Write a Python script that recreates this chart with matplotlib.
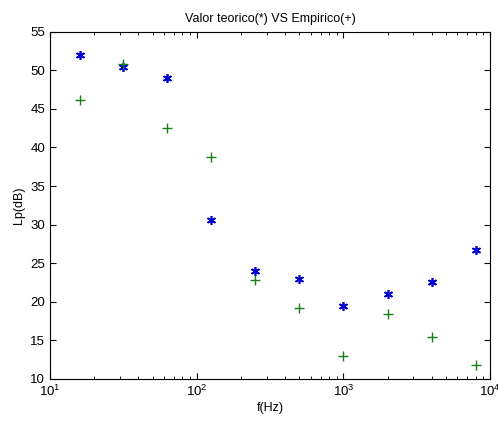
import matplotlib
matplotlib.use('Agg')
import matplotlib.pyplot as plt

plt.rcParams['font.family'] = ['Liberation Sans', 'DejaVu Sans']
plt.rcParams['mathtext.fontset'] = 'custom'
plt.rcParams['mathtext.rm'] = 'Liberation Sans'

# octave band centre frequencies
freqs = [16, 31.5, 63, 125, 250, 500, 1000, 2000, 4000, 8000]
# theoretical (*) and empirical (+) levels in dB
lp_teorico = [52.0, 50.4, 49.0, 30.6, 24.0, 23.0, 19.5, 21.0, 22.6, 26.7]
lp_empirico = [46.2, 50.8, 42.5, 38.8, 22.8, 19.2, 13.0, 18.4, 15.4, 11.8]

fig = plt.figure(figsize=(4.98, 4.21), dpi=100)
ax = fig.add_axes([0.1004, 0.0998, 0.8836, 0.8249])

ax.plot(freqs, lp_teorico, linestyle='none', marker=(6, 2, 0), color='#0000cc',
        markersize=6.5, markeredgewidth=1.2)
ax.plot(freqs, lp_empirico, linestyle='none', marker='+', color='#1a7f1a',
        markersize=7.5, markeredgewidth=1.0)

ax.set_xscale('log')
ax.set_xlim(10, 10000)
ax.set_ylim(10, 55)
ax.set_yticks(range(10, 56, 5))

ax.tick_params(which='both', direction='in', top=True, right=True, labelsize=9.5)
ax.tick_params(which='major', length=4)
ax.tick_params(which='minor', length=2)
for s in ax.spines.values():
    s.set_linewidth(0.8)

ax.set_title('Valor teorico(*) VS Empirico(+)', fontsize=9, pad=7)
ax.set_xlabel('f(Hz)', fontsize=9, labelpad=2)
ax.set_ylabel('Lp(dB)', fontsize=9, labelpad=4)

fig.savefig('out.png', dpi=100, facecolor='white')
